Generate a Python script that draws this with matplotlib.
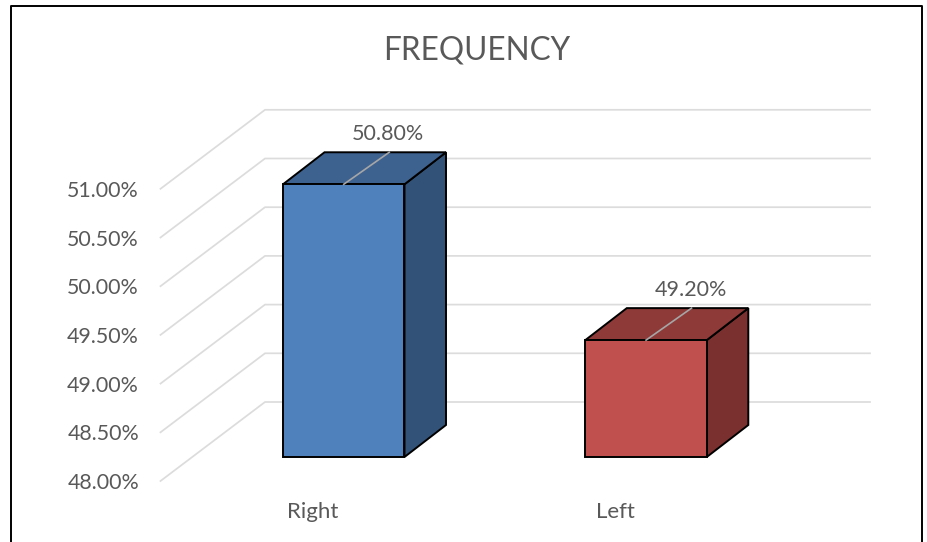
import matplotlib
matplotlib.use("Agg")
import matplotlib.pyplot as plt
from matplotlib.patches import Polygon

categories = ["Right", "Left"]
values = [50.80, 49.20]
value_labels = ["50.80%", "49.20%"]
ticks = [48.0, 48.5, 49.0, 49.5, 50.0, 50.5, 51.0]
tick_labels = ["48.00%", "48.50%", "49.00%", "49.50%", "50.00%", "50.50%", "51.00%"]
title = "FREQUENCY"

plt.rcParams["font.family"] = ["Lato", "DejaVu Sans"]
W, H = 928, 542
fig = plt.figure(figsize=(W / 100, H / 100), dpi=100)
ax = fig.add_axes([0, 0, 1, 1])
UNIT = 97.4  # px per percentage point
FLOOR_PX = 457
ax.set_xlim(0, W)
ax.set_ylim(48 - (H - FLOOR_PX) / UNIT, 48 + FLOOR_PX / UNIT)
ax.axis("off")

def up(px):
    return px / UNIT

GRID = "#dcdcdc"
TXT = "#595959"
# chart frame
ax.plot([11, 11, 922, 922], [48 - up(85), 48 + up(451), 48 + up(451), 48 - up(85)],
        color="black", lw=1.4, solid_capstyle="butt")
# walls
for t, lab in zip(ticks, tick_labels):
    y_front = t - up(24)
    y_back = t + up(55)
    ax.plot([160.5, 265, 870], [y_front, y_back, y_back], color=GRID, lw=1.25, zorder=1)
    ax.text(139, y_front - up(2), lab, ha="right", va="center", fontsize=15.4, color=TXT)

# bars
lefts = [283, 585.3]
label_x = [313, 615]
bw = 121.5
dx, dy = 41.5, up(32)
faces = [("#4f81bd", "#3e6290", "#325278"), ("#c0504d", "#8e3a38", "#7a302e")]
for x0, v, lab, cat, lx, (front, top, side) in zip(lefts, values, value_labels, categories, label_x, faces):
    ec = dict(edgecolor="black", linewidth=1.4, zorder=3)
    ax.add_patch(Polygon([(x0 + bw, 48), (x0 + bw + dx, 48 + dy), (x0 + bw + dx, v + dy), (x0 + bw, v)],
                         facecolor=side, **ec))
    ax.add_patch(Polygon([(x0, v), (x0 + dx, v + dy), (x0 + bw + dx, v + dy), (x0 + bw, v)],
                         facecolor=top, **ec))
    ax.add_patch(Polygon([(x0, 48), (x0 + bw, 48), (x0 + bw, v), (x0, v)], facecolor=front, **ec))
    cx = x0 + bw / 2
    ax.plot([cx, cx + dx + 4], [v, v + dy], color="#a6a6a6", lw=1.2, zorder=4)
    ax.text(cx + dx + 3, v + dy + up(18), lab, ha="center", va="center", fontsize=15.5, color=TXT, zorder=5)
    ax.text(lx, 48 - up(55), cat, ha="center", va="center", fontsize=16, color=TXT)

ax.text(476.5, 48 + up(406), title, ha="center", va="center", fontsize=22.7, color=TXT)
fig.savefig("out.png", dpi=100)
